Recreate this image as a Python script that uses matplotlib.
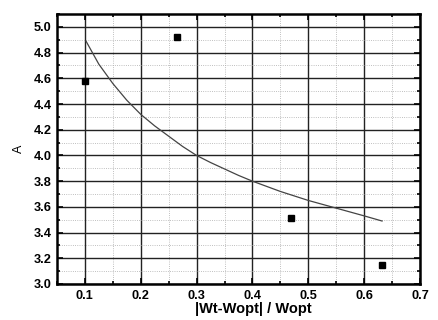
import numpy as np
import matplotlib.pyplot as plt
from matplotlib.ticker import MultipleLocator

# measured points
x_pts = [0.1, 0.265, 0.469, 0.632]
a_pts = [4.58, 4.92, 3.51, 3.15]

# fitted curve
x_fit = [0.102, 0.125, 0.15, 0.175, 0.2, 0.225, 0.25, 0.275, 0.3, 0.325, 0.35,
         0.375, 0.4, 0.425, 0.45, 0.475, 0.5, 0.525, 0.55, 0.575, 0.6, 0.632]
a_fit = [4.89, 4.71, 4.56, 4.43, 4.32, 4.23, 4.15, 4.07, 4.00, 3.945, 3.895,
         3.845, 3.80, 3.76, 3.72, 3.685, 3.65, 3.62, 3.59, 3.56, 3.53, 3.49]

plt.rcParams['font.family'] = ['Liberation Sans', 'DejaVu Sans']

fig = plt.figure(figsize=(4.38, 3.2), dpi=100)
ax = fig.add_axes([0.130, 0.1125, 0.829, 0.8435])

ax.plot(x_fit, a_fit, color='#444444', lw=0.9)
ax.plot(x_pts, a_pts, 's', color='black', ms=5)

ax.set_xlim(0.05, 0.7)
ax.set_ylim(3.0, 5.1)
ax.xaxis.set_major_locator(MultipleLocator(0.1))
ax.xaxis.set_minor_locator(MultipleLocator(0.05))
ax.yaxis.set_major_locator(MultipleLocator(0.2))
ax.yaxis.set_minor_locator(MultipleLocator(0.1))

ax.grid(which='major', color='#222222', lw=1.0, ls='-')
ax.grid(which='minor', color='#aaaaaa', lw=0.6, ls=':')
ax.set_axisbelow(True)

ax.tick_params(which='both', direction='in', top=True, right=True,
               labelsize=9.2, width=1.2, pad=4)
ax.tick_params(which='major', length=4)
ax.tick_params(which='minor', length=2)
for lbl in ax.get_xticklabels() + ax.get_yticklabels():
    lbl.set_fontweight('bold')
for s in ax.spines.values():
    s.set_linewidth(1.8)

ax.set_xlabel('|Wt-Wopt| / Wopt', fontsize=10.5, fontweight='bold', labelpad=1)
ax.xaxis.set_label_coords(0.54, -0.065)
ax.set_ylabel('A', fontsize=9, labelpad=6)

plt.savefig('out.png', dpi=100)
